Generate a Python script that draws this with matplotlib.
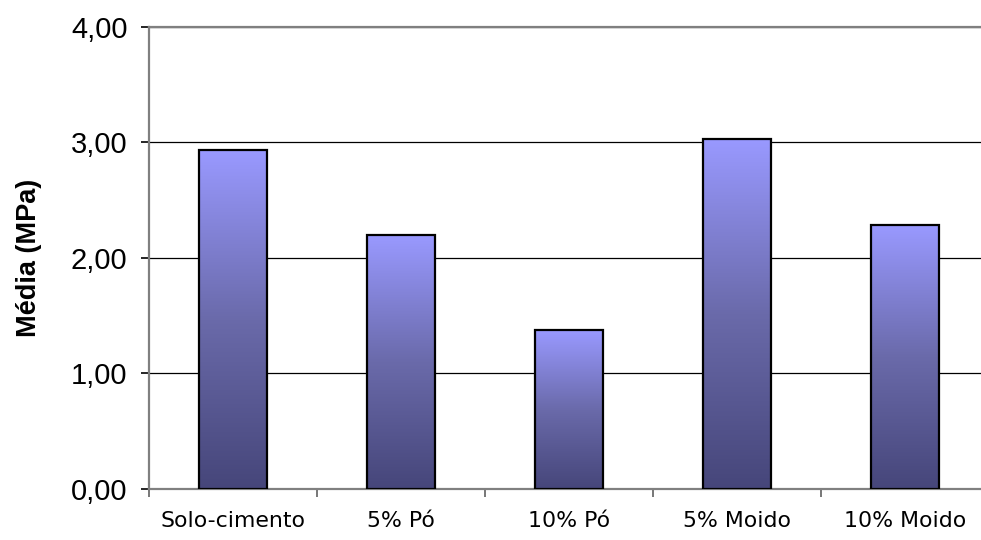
import numpy as np
import matplotlib
matplotlib.use("Agg")
import matplotlib.pyplot as plt
from matplotlib.colors import LinearSegmentedColormap

categories = ["Solo-cimento", "5% Pó", "10% Pó", "5% Moido", "10% Moido"]
media_mpa = [2.93, 2.20, 1.37, 3.03, 2.28]
y_ticks = [0, 1, 2, 3, 4]
y_tick_labels = ["0,00", "1,00", "2,00", "3,00", "4,00"]

W, H = 981, 540
fig = plt.figure(figsize=(W / 100, H / 100), dpi=100)
fig.patch.set_facecolor("white")

left, right, top, bottom = 149, 989, 27, 488.5
ax = fig.add_axes([left / W, 1 - bottom / H, (right - left) / W, (bottom - top) / H])

x = np.arange(len(categories))
bar_width = 0.41
bars = ax.bar(x, media_mpa, width=bar_width, facecolor="none",
              edgecolor="black", linewidth=1.6, zorder=4)

# vertical gradient inside each bar, light at the top, dark at the base
grad_cmap = LinearSegmentedColormap.from_list(
    "bar_grad", ["#46467a", "#6a6aaa", "#9999ff"])
gradient = np.linspace(0, 1, 256).reshape(-1, 1)
for rect in bars:
    x0 = rect.get_x()
    h = rect.get_height()
    im = ax.imshow(gradient, cmap=grad_cmap, origin="lower", aspect="auto",
                   extent=(x0, x0 + rect.get_width(), 0, h), zorder=3)
    im.set_clip_path(rect)

ax.set_xlim(-0.5, len(categories) - 0.5)
ax.set_ylim(0, 4)

ax.set_yticks(y_ticks)
ax.set_yticklabels(y_tick_labels, fontfamily="Liberation Sans", fontsize=21)
ax.yaxis.grid(True, color="black", linewidth=0.9, zorder=1)
ax.set_axisbelow(True)

ax.set_xticks(x)
ax.set_xticklabels(categories, fontfamily="DejaVu Sans", fontsize=15.8)
ax.set_xticks(np.arange(len(categories) + 1) - 0.5, minor=True)
ax.tick_params(axis="x", which="major", length=0, pad=16)
ax.tick_params(axis="x", which="minor", length=5.5, width=1.2, color="#606060")
ax.tick_params(axis="y", length=5.5, width=1.2, color="black", pad=10)

for side in ["left", "bottom", "top"]:
    ax.spines[side].set_color("#808080")
    ax.spines[side].set_linewidth(1.6)
ax.spines["right"].set_visible(False)

fig.text(29 / W, 1 - 258 / H, "Média (MPa)", rotation=90,
         ha="center", va="center", fontfamily="Liberation Sans",
         fontweight="bold", fontsize=19.5)

fig.savefig("out.png", dpi=100)
